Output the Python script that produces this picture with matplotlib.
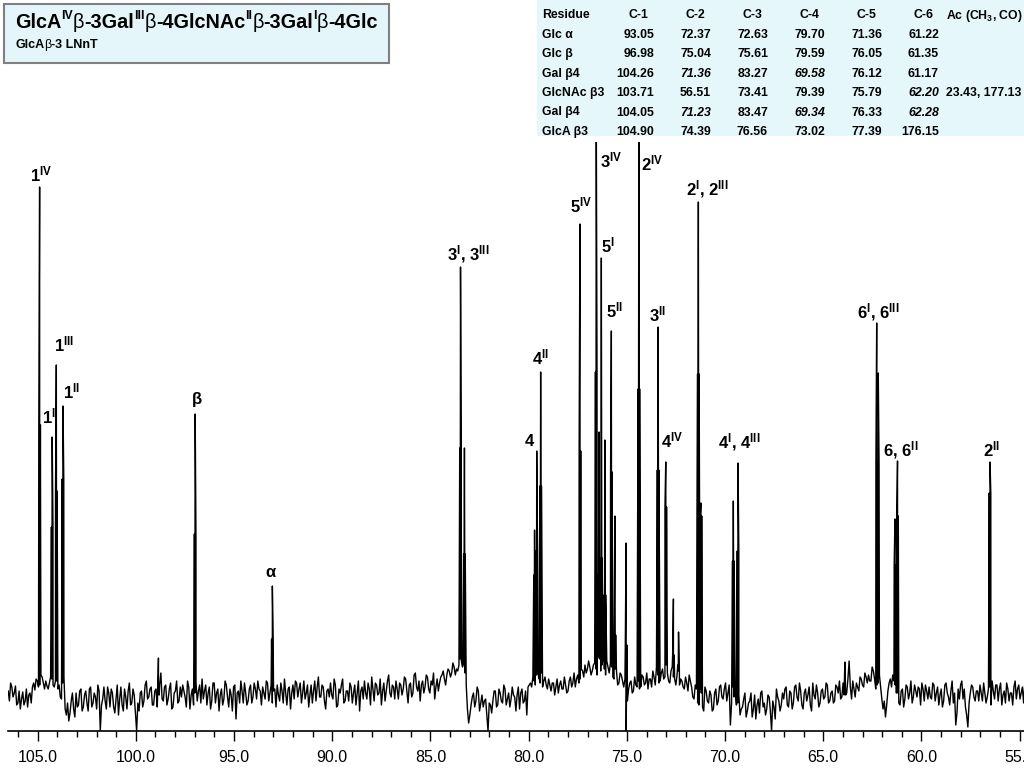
import numpy as np
import matplotlib
matplotlib.use('Agg')
import matplotlib.pyplot as plt
from matplotlib.patches import Rectangle
from matplotlib.ticker import MultipleLocator, FormatStrFormatter

plt.rcParams['font.family'] = ['Liberation Sans', 'DejaVu Sans']
plt.rcParams['mathtext.fontset'] = 'custom'
plt.rcParams['mathtext.bf'] = 'Liberation Sans:bold'
plt.rcParams['mathtext.rm'] = 'Liberation Sans:bold'
plt.rcParams['mathtext.it'] = 'Liberation Sans:italic'

# --- spectrum data ---
# baseline noise, two interleaved runs from 106.5 to 54.8 ppm
noise_a = [
    4, 12, -2, 9, -8, -14, 3, -6, -12, 2, 8, 5, 14, 10, 18, 6, 9, 12, 16, 8,
    14, 10, -4, 18, -20, -26, -6, -14, 2, -10, 6, -12, 4, -16, 8, -8, -2, 10, -36, -4,
    -6, 8, -12, 2, -18, 10, -4, -10, 6, -14, 12, -8, 0, -36, -16, 4, -6, 14, -2, 8,
    -10, 6, 2, 22, -6, 10, -4, 12, -12, 4, -8, 8, 10, -2, 14, -14, 6, 2, -6, 10,
    16, 4, -10, 8, -6, 12, 2, -16, 6, -4, 10, -12, 0, 8, -24, 4, 14, -8, 2, -6,
    10, -2, 6, 14, 4, 8, -4, 12, 2, -8, 6, 10, -6, 4, 16, -10, 8, 2, -4, 12,
    6, -8, 14, 2, -12, 10, 4, -6, 18, -2, 8, -14, 6, 12, -4, 10, -10, 2, 16, -6,
    4, 12, -8, 10, 2, -16, 8, 14, -4, 6, 18, -6, 10, 2, -10, 12, 4, 20, -2, 8,
    14, -4, 10, 6, 16, -8, 12, 2, 22, 4, -6, 14, 8, 18, 2, 10, -4, 16, 12, 20,
    16, 20, 24, 22, 28, 26, 30, 34, 30, 10, -28, -10, 2, -6, 4, -8, -12, -4, -36, -10,
    -6, 4, -10, 2, -8, 6, -4, -12, 8, -2, 0, -14, 6, -6, -20, 10, 8, 14, 20, 16,
    22, 14, 10, 16, 4, 12, 8, 2, 14, 6, 10, 4, 18, 12, 8, 20, 16, 24, 30, 26,
    28, 24, 32, 20, 36, 30, 26, 34, 22, 28, 16, 24, 12, 20, 8, -36, 6, 14, 4, 10,
    14, 8, 18, 12, 6, 16, 24, 10, 20, 14, 26, 18, 22, 12, 28, 16, 20, 10, 14, 6,
    12, 20, 8, -4, 6, -10, 2, -16, 4, -8, 0, -14, 6, -6, 10, -4, 12, 2, -30, 8,
    4, -8, -20, -12, 2, -16, -6, -22, 0, -10, -18, 4, -8, -14, -2, -36, -12, 6, -6, -10,
    -4, 8, -12, 2, -8, 10, -6, 4, -14, 6, 0, -10, 12, -4, 2, -8, 6, -2, 10, -6,
    4, -6, 8, 14, -2, 10, 2, 34, -4, 6, 12, 4, 16, 8, 18, 20, 14, 24, 6, 12,
    8, -14, -22, 4, 16, 20, 10, 2, -10, 6, -4, 8, 2, -8, 10, -2, 6, 12, -6, 4,
    8, -4, 10, 2, -10, 6, -6, 12, -2, 4, -8, -30, 6, 10, -4, -12, -32, 2, 8, -6,
    4, 10, -6, 2, -2, 8, 14, -4, 10, 6, -10, 4, 12, -6, 2, 8, -4, 10, 2, -8,
]
noise_b = [
    -6, 8, 2, -10, 4, -4, -10, 6, 0, -8, 12, 16, 8, 20, 12, 14, 6, 18, 10, 14,
    6, -2, 12, -14, -8, -18, 2, -22, -12, 4, -16, 0, -8, 6, -12, 2, -14, 4, -10, 8,
    -14, 2, 6, -12, -4, -20, 8, -16, -2, 4, -10, 6, -18, -8, 2, -12, 10, -4, 6, -10,
    4, -12, 10, -4, 8, -10, 6, -14, 2, 14, -6, -2, 4, -12, 8, 0, -10, 12, 4, -8,
    -4, 10, 2, -14, 12, -8, 6, 0, -10, 14, -2, 6, -16, 10, 2, -8, 4, 12, -10, 6,
    -8, 12, -4, 6, -10, 2, 14, -6, 10, 4, -12, 0, 12, -8, 2, 6, -14, 10, 14, -2,
    12, 2, -4, 10, 0, -8, 14, 8, -2, 10, -6, 4, -2, 0, 16, -12, 6, 10, -8, 4,
    -6, 8, 2, -10, 14, 4, -4, 2, 12, -10, 6, 12, 0, 16, 4, -6, 14, 2, 10, -4,
    6, 12, 0, 18, 4, 10, -2, 20, 8, 14, 10, 2, 20, 6, 14, 22, 8, 4, 18, 24,
    10, 26, 18, 32, 20, 24, 36, 28, 22, -14, -20, -2, -12, 8, -16, 0, -6, -20, -8, -18,
    4, -12, 6, -6, 10, -10, 2, -4, 0, -16, 8, 2, -8, 4, 8, 12, 18, 10, 24, 12,
    8, 18, 6, 10, 12, 0, 16, 10, 6, 18, 2, 14, 8, 22, 16, 12, 26, 18, 22, 34,
    20, 30, 26, 38, 24, 34, 20, 28, 32, 18, 26, 10, 22, 14, 16, -6, 12, 2, 18, 8,
    6, 20, 10, 22, 16, 8, 18, 28, 12, 22, 16, 30, 14, 24, 18, 10, 24, 16, 8, 18,
    4, 14, -2, 10, -8, 6, -12, 8, -6, 4, -16, 2, -10, 8, -2, 6, -6, 10, -8, -2,
    -10, 0, -14, -4, -22, -8, 2, -14, -24, -4, 2, -12, -20, 0, -16, -6, -24, -2, -16, 2,
    6, -10, 4, -14, 8, -2, 12, -10, 2, -6, 8, -16, 0, 10, -12, 4, -4, 12, -8, 2,
    -8, 10, 2, -4, 12, 4, 16, 8, 14, -2, 8, 18, 10, 22, 12, 14, 28, 16, 10, 20,
    -4, -6, -10, 12, 8, 14, 2, -8, 4, -12, 10, -4, 14, -2, 4, 8, -10, 6, 10, -4,
    -2, 12, -6, 8, 0, -12, 10, 2, -10, 14, 2, -18, -4, 14, 6, -20, -8, 10, -2, 4,
    -6, 2, 12, -8, 6, -10, 4, 10, -6, 12, 0, -8, 6, 2, -10, 14, 6, -4, 8, 12,
]

peak_ppm = [104.90, 104.26, 104.05, 103.71, 98.85, 96.98, 93.05, 83.47, 83.27,
            79.70, 79.59, 79.39, 77.39, 76.56, 76.42, 76.30, 76.12, 75.79, 75.61,
            75.04, 74.39, 73.41, 73.02, 72.63, 72.37, 71.36, 71.23, 69.58, 69.34,
            63.90, 62.28, 62.20, 61.35, 61.22, 56.51]
peak_height = [508, 258, 330, 289, 37, 281, 109, 428, 247,
               165, 244, 323, 471, 600, 263, 437, 255, 364, 179,
               152, 600, 368, 233, 96, 63, 493, 192, 194, 232,
               33, 372, 322, 176, 234, 233]
peak_shoulder = [270, 168, 204, 216, 0, 161, 56, 247, 141,
                 120, 144, 209, 244, 323, 120, 137, 100, 223, 60,
                 50, 306, 225, 188, 40, 30, 321, 179, 134, 144,
                 0, 232, 232, 130, 179, 202]

label_text = [r'$\mathbf{1^{IV}}$', r'$\mathbf{1^{I}}$', r'$\mathbf{1^{III}}$',
              r'$\mathbf{1^{II}}$', 'β', 'α', r'$\mathbf{3^{I}}$, $\mathbf{3^{III}}$',
              '4', r'$\mathbf{4^{II}}$', r'$\mathbf{5^{IV}}$',
              r'$\mathbf{3^{IV}}$', r'$\mathbf{5^{I}}$', r'$\mathbf{5^{II}}$',
              r'$\mathbf{2^{IV}}$', r'$\mathbf{3^{II}}$', r'$\mathbf{4^{IV}}$',
              r'$\mathbf{2^{I}}$, $\mathbf{2^{III}}$', r'$\mathbf{4^{I}}$, $\mathbf{4^{III}}$',
              r'$\mathbf{6^{I}}$, $\mathbf{6^{III}}$', r'6, $\mathbf{6^{II}}$',
              r'$\mathbf{2^{II}}$']
label_ppm = [104.83, 104.42, 103.66, 103.30, 96.89, 93.12, 83.09, 79.98, 79.41,
             77.35, 75.82, 75.97, 75.61, 73.72, 73.42, 72.71, 70.88, 69.30,
             62.22, 61.05, 56.41]
label_y = [514, 272, 344, 297, 291, 118, 435, 249, 331, 483, 528, 443, 378,
           525, 374, 248, 500, 247, 377, 239, 239]

# --- table of shifts ---
residues = ['Glc α', 'Glc β', 'Gal β4', 'GlcNAc β3', 'Gal β4', 'GlcA β3']
c1 = [93.05, 96.98, 104.26, 103.71, 104.05, 104.90]
c2 = [72.37, 75.04, 71.36, 56.51, 71.23, 74.39]
c3 = [72.63, 75.61, 83.27, 73.41, 83.47, 76.56]
c4 = [79.70, 79.59, 69.58, 79.39, 69.34, 73.02]
c5 = [71.36, 76.05, 76.12, 75.79, 76.33, 77.39]
c6 = [61.22, 61.35, 61.17, 62.20, 62.28, 176.15]
ac = ['', '', '', '23.43, 177.13', '', '']
headers = ['C-1', 'C-2', 'C-3', 'C-4', 'C-5', 'C-6']
italic_cells = [(2, 1), (2, 3), (3, 5), (4, 1), (4, 3), (4, 5)]

W, H = 1024, 768
fig = plt.figure(figsize=(W / 100, H / 100), dpi=100)


def fx(x):
    return x / W


def fy(y):
    return 1 - y / H


# spectrum axes: bottom axis line at y=731px, top clip at 142px
ax = fig.add_axes([fx(8), fy(731), (1024 - 8) / W, (731 - 142) / H])
ax.patch.set_alpha(0)

step = (106.5 - 54.8) / (len(noise_a) - 1)
ppm_a = np.linspace(106.5, 54.8, len(noise_a))
ppm_b = ppm_a - step / 2
pp = np.array(peak_ppm)
xs = np.concatenate([ppm_a, ppm_b, pp, pp + 0.04, pp - 0.04])
ys = np.concatenate([noise_a, noise_b, peak_height, peak_shoulder, peak_shoulder])
order = np.argsort(-xs)
ax.plot(xs[order], ys[order], color='black', lw=1.0)

for txt, p, yv in zip(label_text, label_ppm, label_y):
    ax.text(p, yv, txt, ha='center', va='baseline', fontsize=12, fontweight='bold')

ax.set_xlim(106.51, 54.78)
ax.set_ylim(-36, 553)
for s in ['left', 'top', 'right']:
    ax.spines[s].set_visible(False)
ax.spines['bottom'].set_linewidth(1.2)
ax.yaxis.set_visible(False)
ax.xaxis.set_major_locator(MultipleLocator(5))
ax.xaxis.set_minor_locator(MultipleLocator(1))
ax.xaxis.set_major_formatter(FormatStrFormatter('%.1f'))
ax.tick_params(axis='x', which='major', length=7, width=1, labelsize=11.5, pad=7)
ax.tick_params(axis='x', which='minor', length=4, width=1)

# title box
fig.add_artist(Rectangle((fx(4), fy(63)), 385 / W, 59 / H, transform=fig.transFigure,
                         facecolor='#e4f6fa', edgecolor='#808080', lw=1.5))
renderer = fig.canvas.get_renderer()


def rich(x, y, parts, size):
    for s, kind in parts:
        fs = size * 0.62 if kind == 'sup' else size
        dy = size * 0.45 * 100 / 72 if kind == 'sup' else 0
        weight = 'normal' if kind == 'g' else 'bold'
        t = fig.text(fx(x), fy(y - dy), s, fontsize=fs, fontweight=weight,
                     ha='left', va='baseline')
        x += t.get_window_extent(renderer).width


rich(15, 28, [('GlcA', 'b'), ('IV', 'sup'), ('β', 'g'), ('-3Gal', 'b'), ('III', 'sup'),
              ('β', 'g'), ('-4GlcNAc', 'b'), ('II', 'sup'), ('β', 'g'), ('-3Gal', 'b'),
              ('I', 'sup'), ('β', 'g'), ('-4Glc', 'b')], 14.3)
rich(15, 48, [('GlcA', 'b'), ('β', 'g'), ('-3 LNnT', 'b')], 9)

# table
fig.add_artist(Rectangle((fx(537), fy(136)), (1024 - 537) / W, 136 / H,
                         transform=fig.transFigure, facecolor='#e6f7fb', edgecolor='none'))
col_right = [654, 711, 768, 825, 882, 939]
row_y = [18.5 + 19.4 * i for i in range(7)]
tfs = 8.8
fig.text(fx(542), fy(row_y[0]), 'Residue', fontsize=tfs, fontweight='bold', va='baseline')
for j, h in enumerate(headers):
    fig.text(fx(col_right[j] - 16), fy(row_y[0]), h, fontsize=tfs, fontweight='bold',
             ha='center', va='baseline')
fig.text(fx(946), fy(row_y[0]), r'Ac (CH$_{3}$, CO)', fontsize=tfs, fontweight='bold',
         va='baseline')
cols = [c1, c2, c3, c4, c5, c6]
for i, res in enumerate(residues):
    yy = fy(row_y[i + 1])
    fig.text(fx(542), yy, res, fontsize=tfs, fontweight='bold', va='baseline')
    for j, col in enumerate(cols):
        style = 'italic' if (i, j) in italic_cells else 'normal'
        fig.text(fx(col_right[j]), yy, '%.2f' % col[i], fontsize=tfs, fontweight='bold',
                 style=style, ha='right', va='baseline')
    if ac[i]:
        fig.text(fx(946), yy, ac[i], fontsize=tfs, fontweight='bold', va='baseline')

fig.savefig('out.png', dpi=100)
